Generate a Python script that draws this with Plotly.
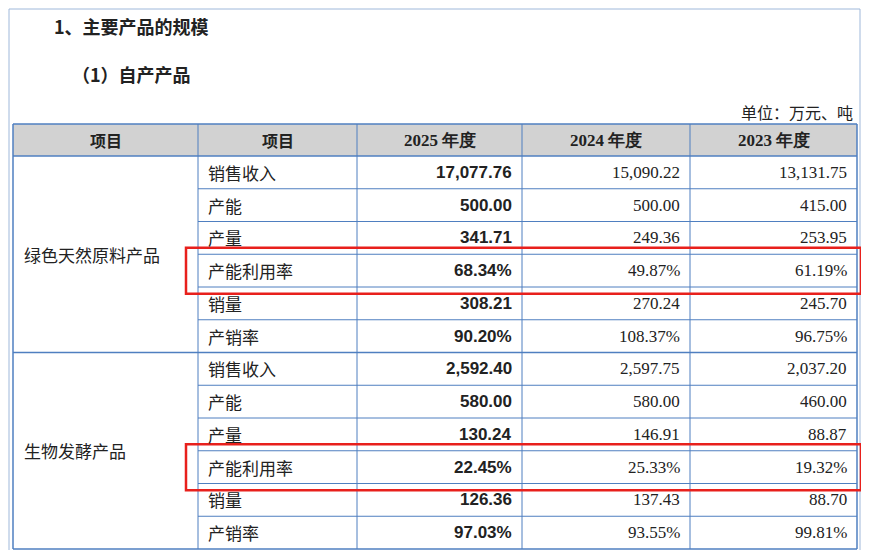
import plotly.graph_objects as go

# table data
groups = ["绿色天然原料产品", "生物发酵产品"]
items = ["销售收入", "产能", "产量", "产能利用率", "销量", "产销率"]
years = ["2025 年度", "2024 年度", "2023 年度"]
v2025 = ["17,077.76", "500.00", "341.71", "68.34%", "308.21", "90.20%",
         "2,592.40", "580.00", "130.24", "22.45%", "126.36", "97.03%"]
v2024 = ["15,090.22", "500.00", "249.36", "49.87%", "270.24", "108.37%",
         "2,597.75", "580.00", "146.91", "25.33%", "137.43", "93.55%"]
v2023 = ["13,131.75", "415.00", "253.95", "61.19%", "245.70", "96.75%",
         "2,037.20", "460.00", "88.87", "19.32%", "88.70", "99.81%"]
highlight = "产能利用率"

W, H = 869, 558
PAD = 8  # page body margin in the browser
cols = [13, 198, 357, 522, 690, 857]
top, head_bot, bot = 124, 156, 549
rh = (bot - head_bot) / 12
line = "#4f7fc0"
cjk = "Noto Sans CJK SC"
serif = "Liberation Serif"
bold_num = "Liberation Sans Narrow, Liberation Sans"

shapes = []
ann = []

def hline(y, x0, x1, color=line, w=1):
    shapes.append(dict(type="line", x0=x0, x1=x1, y0=y, y1=y, line=dict(color=color, width=w)))

def vline(x, y0, y1, w=1):
    shapes.append(dict(type="line", x0=x, x1=x, y0=y0, y1=y1, line=dict(color=line, width=w)))

def text(x, y, s, size=17, font=cjk, anchor="left", color="#222", bold=False):
    if bold:
        s = "<b>" + s + "</b>"
    ann.append(dict(x=x, y=y, text=s, showarrow=False, xanchor=anchor, yanchor="middle",
                    font=dict(family=font, size=size, color=color)))

# page frame
shapes.append(dict(type="rect", x0=PAD + 1, x1=W - PAD - 1, y0=PAD + 1, y1=H, line=dict(color="#9fb8da", width=1)))

# header fill
shapes.append(dict(type="rect", x0=cols[0], x1=cols[-1], y0=top, y1=head_bot,
                   fillcolor="#d2d2d2", line=dict(width=0), layer="below"))

# grid
hline(top, cols[0], cols[-1], w=1.5)
hline(head_bot, cols[0], cols[-1], w=1.5)
hline(bot, cols[0], cols[-1], w=1.5)
hline(head_bot + 6 * rh, cols[0], cols[-1], w=1.5)
for i in range(1, 12):
    if i != 6:
        hline(head_bot + i * rh, cols[1], cols[-1])
for k, x in enumerate(cols):
    vline(x, top, bot, w=1.5 if k in (0, len(cols) - 1) else 1)

# titles
text(52, 26, "1、主要产品的规模", size=18, bold=True)
text(70, 74, "（1）自产产品", size=18, bold=True)
text(855, 112, "单位：万元、吨", size=16, anchor="right")

# header
text((cols[0] + cols[1]) / 2, (top + head_bot) / 2, "项目", size=16, anchor="center", bold=True)
text((cols[1] + cols[2]) / 2, (top + head_bot) / 2, "项目", size=16, anchor="center", bold=True)
for j, yr in enumerate(years):
    text((cols[2 + j] + cols[3 + j]) / 2, (top + head_bot) / 2, yr, size=17,
         font=serif, anchor="center", bold=True)

# body
for g, name in enumerate(groups):
    text(22, head_bot + (g * 6 + 3) * rh, name, size=17)
    for i, it in enumerate(items):
        r = g * 6 + i
        yc = head_bot + (r + 0.5) * rh
        text(cols[1] + 8, yc, it, size=17)
        text(cols[3] - 8, yc, v2025[r], size=17, font=bold_num, anchor="right", bold=True)
        text(cols[4] - 8, yc, v2024[r], size=17, font=serif, anchor="right")
        text(cols[5] - 8, yc, v2023[r], size=17, font=serif, anchor="right")
        if it == highlight:
            shapes.append(dict(type="rect", x0=186, x1=861, y0=yc - 23, y1=yc + 23,
                               line=dict(color="#e8201c", width=2.5)))

fig = go.Figure()
fig.update_layout(
    width=W - 2 * PAD, height=H - 2 * PAD, margin=dict(l=0, r=0, t=0, b=0),
    paper_bgcolor="white", plot_bgcolor="white",
    xaxis=dict(range=[PAD, W - PAD], visible=False, fixedrange=True),
    yaxis=dict(range=[H - PAD, PAD], visible=False, fixedrange=True),
    shapes=shapes, annotations=ann, showlegend=False,
)
fig.write_html("out.html")
